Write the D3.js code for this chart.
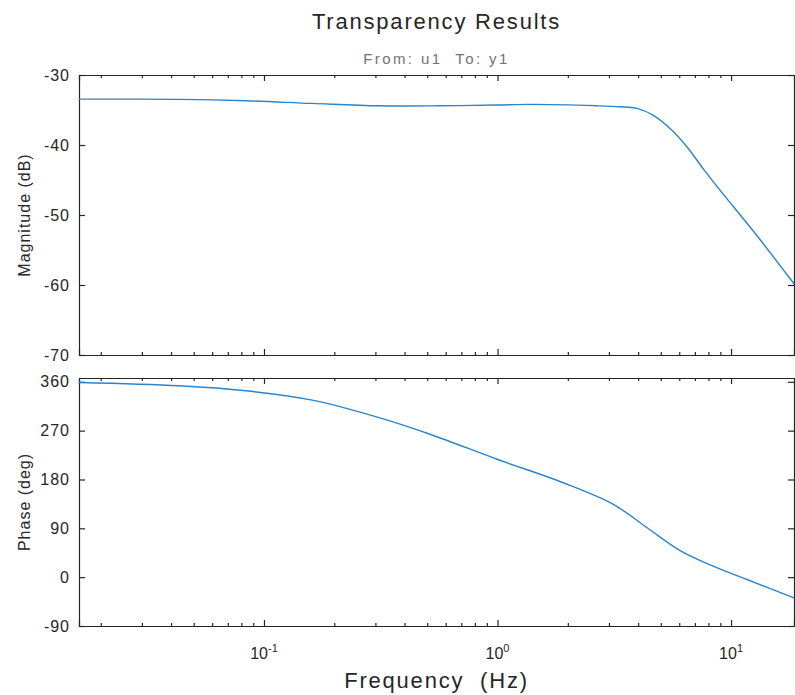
<!DOCTYPE html>
<meta charset="utf-8">
<style>
body { margin: 0; background: #fff; }
text { font-family: "Liberation Sans", Arial, sans-serif; fill: #262626; }
.axis path, .axis line { stroke: #262626; stroke-width: 1.2px; }
.axis text { font-size: 16px; letter-spacing: 1px; }
.curve { fill: none; stroke: #2a84cc; stroke-width: 1.4px; }
</style>
<body>
<script src="https://cdn.jsdelivr.net/npm/d3@7"></script>
<script>

// magnitude response
var magFreq = [0.0161, 0.0433, 0.0837, 0.161, 0.311, 0.561, 1.0, 1.38, 2.67, 3.35, 3.96, 4.63, 5.48, 6.48, 7.59, 8.98, 12.4, 18.6];
var magDb   = [-33.44, -33.48, -33.68, -34.06, -34.4, -34.4, -34.28, -34.2, -34.4, -34.54, -34.77, -35.73, -37.64, -40.28, -43.38, -46.49, -52.22, -59.82];

// phase response
var phaseFreq = [0.0161, 0.0433, 0.0837, 0.161, 0.311, 0.514, 0.995, 1.91, 3.13, 4.37, 6.05, 8.38, 11.7, 18.6];
var phaseDeg  = [358.7, 352.6, 343.4, 326.2, 294, 263.4, 217.3, 174, 134.2, 91, 49, 20.3, -4.3, -38.2];

var magTicks = [-70, -60, -50, -40, -30];
var phaseTicks = [-90, 0, 90, 180, 270, 360];
var decades = [0.1, 1, 10];
var decadeExp = ["-1", "0", "1"];

var width = 795, height = 695;
var left = 79, right = 794;

var svg = d3.select("body").append("svg")
    .attr("width", width)
    .attr("height", height);

var x = d3.scaleLog()
    .domain([0.01614, 18.6])
    .range([left, right]);

var minor = x.ticks().filter(function(d) {
  return Math.abs(Math.log10(d) - Math.round(Math.log10(d))) > 1e-6;
});

var yMag = d3.scaleLinear().domain([-70, -30]).range([355, 75]);
var yPhase = d3.scaleLinear().domain([-90, 367]).range([626, 378]);

// plain hyphen for negatives, like the original
var fmt = function(d) { return String(d); };

function panel(y, yTicks) {
  var top = y.range()[1], bottom = y.range()[0];
  var g = svg.append("g");

  // major + minor ticks, pointing inward on all four sides
  g.append("g").attr("class", "axis")
      .attr("transform", "translate(0," + bottom + ")")
      .call(d3.axisBottom(x).tickValues(decades).tickSize(-6).tickFormat(""));
  g.append("g").attr("class", "axis")
      .attr("transform", "translate(0," + bottom + ")")
      .call(d3.axisBottom(x).tickValues(minor).tickSize(-3).tickSizeOuter(0).tickFormat(""));
  g.append("g").attr("class", "axis")
      .attr("transform", "translate(0," + top + ")")
      .call(d3.axisTop(x).tickValues(decades).tickSize(-6).tickFormat(""));
  g.append("g").attr("class", "axis")
      .attr("transform", "translate(0," + top + ")")
      .call(d3.axisTop(x).tickValues(minor).tickSize(-3).tickSizeOuter(0).tickFormat(""));

  g.append("g").attr("class", "axis")
      .attr("transform", "translate(" + left + ",0)")
      .call(d3.axisLeft(y).tickValues(yTicks).tickSizeInner(-6).tickSizeOuter(0)
        .tickPadding(9).tickFormat(fmt));
  g.append("g").attr("class", "axis")
      .attr("transform", "translate(" + right + ",0)")
      .call(d3.axisRight(y).tickValues(yTicks).tickSizeInner(-6).tickSizeOuter(0).tickFormat(""));
  return g;
}

panel(yMag, magTicks);
panel(yPhase, phaseTicks);

function curve(fs, vs, y) {
  var pts = fs.map(function(f, i) { return [x(f), y(vs[i])]; });
  svg.append("path")
      .attr("class", "curve")
      .attr("d", d3.line().curve(d3.curveCatmullRom.alpha(0.5))(pts));
}
curve(magFreq, magDb, yMag);
curve(phaseFreq, phaseDeg, yPhase);

// decade labels 10^n under the phase panel
var lab = svg.append("g").selectAll("text")
    .data(decades)
  .enter().append("text")
    .attr("x", function(d) { return x(d); })
    .attr("y", 659)
    .attr("text-anchor", "middle")
    .style("font-size", "16px")
    .text("10");
lab.append("tspan")
    .attr("dy", -7)
    .style("font-size", "11px")
    .text(function(d, i) { return decadeExp[i]; });

svg.append("text")
    .attr("x", (left + right) / 2).attr("y", 29)
    .attr("text-anchor", "middle")
    .style("font-size", "22px").style("letter-spacing", "1.8px")
    .text("Transparency Results");

svg.append("text")
    .attr("x", (left + right) / 2).attr("y", 64)
    .attr("text-anchor", "middle")
    .style("font-size", "15px").style("fill", "#737373").style("letter-spacing", "2.4px")
    .attr("xml:space", "preserve")
    .text("From: u1  To: y1");

svg.append("text")
    .attr("x", (left + right) / 2).attr("y", 688)
    .attr("text-anchor", "middle")
    .style("font-size", "22px").style("letter-spacing", "1.8px")
    .attr("xml:space", "preserve")
    .text("Frequency  (Hz)");

svg.append("text")
    .attr("transform", "translate(30," + (75 + 355) / 2 + ") rotate(-90)")
    .attr("text-anchor", "middle")
    .style("font-size", "16px").style("letter-spacing", "1px")
    .text("Magnitude (dB)");

svg.append("text")
    .attr("transform", "translate(30," + (378 + 626) / 2 + ") rotate(-90)")
    .attr("text-anchor", "middle")
    .style("font-size", "16px").style("letter-spacing", "1px")
    .text("Phase (deg)");

</script>
</body>
</html>
